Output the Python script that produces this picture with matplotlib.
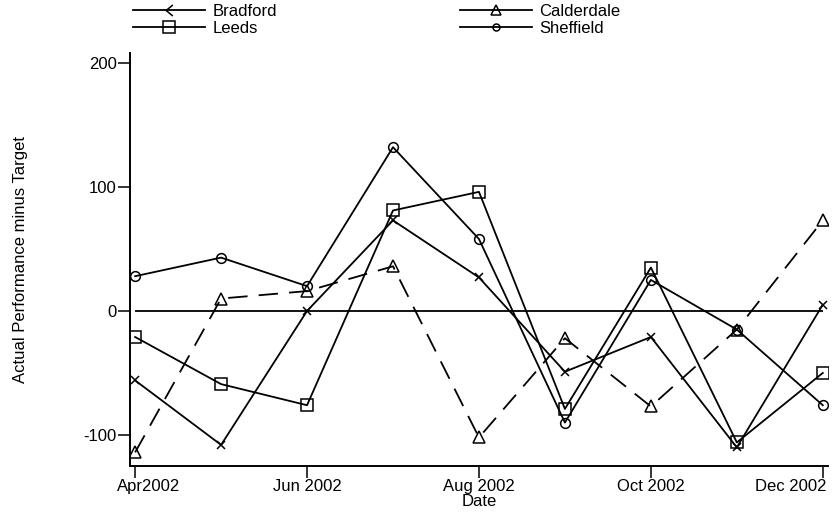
import matplotlib
matplotlib.use("Agg")
import matplotlib.pyplot as plt
import matplotlib.transforms as mtransforms
from matplotlib.lines import Line2D
from matplotlib.path import Path

plt.rcParams['font.family'] = ['Liberation Sans', 'DejaVu Sans']
plt.rcParams['lines.scale_dashes'] = False
plt.rcParams['axes.unicode_minus'] = False

months = ["Apr", "May", "Jun", "Jul", "Aug", "Sep", "Oct", "Nov", "Dec"]
tick_idx = [0, 2, 4, 6, 8]
tick_labels = ["Apr2002", "Jun 2002", "Aug 2002", "Oct 2002", "Dec 2002"]

bradford = [-56, -108, 0, 73, 27, -49, -21, -110, 5]
calderdale = [-114, 10, 16, 36, -102, -22, -77, -15, 73]
leeds = [-21, -59, -76, 81, 96, -79, 35, -106, -50]
sheffield = [28, 43, 20, 132, 58, -90, 25, -15, -76]

x = list(range(len(months)))

fig = plt.figure(figsize=(8.38, 5.14), dpi=100)
ax = fig.add_axes([0.1551, 0.0934, 0.988 - 0.1551, 0.897 - 0.0934])

lw = 1.3
ax.hlines(0, x[0], x[-1], color='black', lw=lw)
ax.plot(x, bradford, color='black', lw=lw, marker='x', ms=6, mew=1.1)
ax.plot(x, calderdale, color='black', lw=lw, ls=(0, (14, 8)), marker='^',
        ms=8, mfc='none', mew=1.1)
ax.plot(x, leeds, color='black', lw=lw, marker='s', ms=9, mfc='none', mew=1.1)
ax.plot(x, sheffield, color='black', lw=lw, marker='o', ms=7, mfc='none', mew=1.1)

ax.set_xlim(-0.06, 8.06)
ax.set_ylim(-125, 208)
ax.set_yticks([-100, 0, 100, 200])
ax.set_xticks(tick_idx)
ax.set_xticklabels(tick_labels)
ax.tick_params(direction='out', length=8.5, width=1.1, labelsize=12, pad=1)
for s in ['top', 'right']:
    ax.spines[s].set_visible(False)
for s in ['left', 'bottom']:
    ax.spines[s].set_linewidth(1.4)

xt = ax.get_xticklabels()
xt[0].set_transform(xt[0].get_transform() +
                    mtransforms.ScaledTranslation(0.13, 0, fig.dpi_scale_trans))
xt[-1].set_transform(xt[-1].get_transform() +
                     mtransforms.ScaledTranslation(-0.32, 0, fig.dpi_scale_trans))

ax.set_ylabel("Actual Performance minus Target", fontsize=12, labelpad=40)
ax.set_xlabel("Date", fontsize=12, labelpad=0)

chevron = Path([(0.6, 1), (-0.6, 0), (0.6, -1)], [Path.MOVETO, Path.LINETO, Path.LINETO])
handles = [
    Line2D([], [], color='black', lw=lw, marker=chevron, ms=8, mfc='none', mew=1.1),
    Line2D([], [], color='black', lw=lw, marker='s', ms=8, mfc='none', mew=1.1),
    Line2D([], [], color='black', lw=lw, marker='^', ms=7, mfc='none', mew=1.1),
    Line2D([], [], color='black', lw=lw, marker='o', ms=5, mfc='none', mew=1.1),
]
labels = ["Bradford", "Leeds", "Calderdale", "Sheffield"]
fig.legend(handles, labels, ncol=2, loc='upper left', bbox_to_anchor=(0.147, 1.012),
           frameon=False, fontsize=12, handlelength=4.3, handletextpad=0.45,
           columnspacing=11.0, labelspacing=0.15, borderpad=0.1)

fig.savefig("out.png", dpi=100)
